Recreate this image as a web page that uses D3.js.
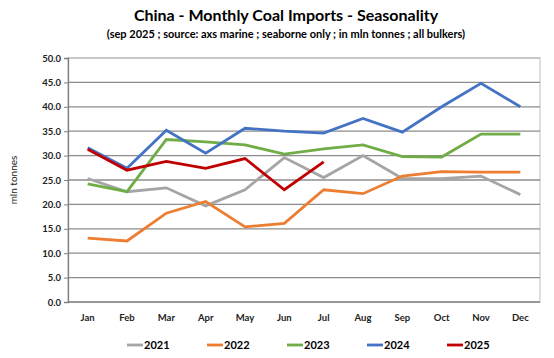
<!DOCTYPE html>
<html>
<head>
<meta charset="utf-8">
<script src="https://cdn.jsdelivr.net/npm/d3@7"></script>
<style>
  body { margin: 0; background: #fff; }
  svg { display: block; font-family: Lato, "Open Sans", sans-serif; }
</style>
</head>
<body>
<div id="chart"></div>
<script>
const months = ["Jan","Feb","Mar","Apr","May","Jun","Jul","Aug","Sep","Oct","Nov","Dec"];
const yTicks = [0, 5, 10, 15, 20, 25, 30, 35, 40, 45, 50];

const v2021 = [25.3, 22.6, 23.4, 19.7, 23.0, 29.6, 25.5, 30.0, 25.3, 25.3, 25.8, 22.0];
const v2022 = [13.1, 12.5, 18.2, 20.6, 15.4, 16.1, 23.0, 22.2, 25.8, 26.7, 26.6, 26.6];
const v2023 = [24.2, 22.6, 33.3, 32.8, 32.2, 30.3, 31.4, 32.2, 29.8, 29.7, 34.4, 34.4];
const v2024 = [31.6, 27.4, 35.2, 30.5, 35.6, 35.0, 34.6, 37.6, 34.8, 40.0, 44.8, 40.0];
const v2025 = [31.3, 27.0, 28.8, 27.4, 29.4, 23.0, 28.7];

const series = [
  {name: "2021", values: v2021, color: "#a5a5a5"},
  {name: "2022", values: v2022, color: "#ed7d31"},
  {name: "2023", values: v2023, color: "#70ad47"},
  {name: "2024", values: v2024, color: "#4472c4"},
  {name: "2025", values: v2025, color: "#c00000"},
];

const width = 554, height = 358;
const M = {top: 58, right: 14, bottom: 56, left: 68};
const innerW = width - M.left - M.right;
const innerH = height - M.top - M.bottom;

const svg = d3.select("#chart").append("svg")
  .attr("width", width).attr("height", height);

const x = d3.scaleBand().domain(months).range([0, innerW]);
const y = d3.scaleLinear().domain([0, 50]).range([innerH, 0]);

// titulo
svg.append("text").attr("x", 286).attr("y", 21)
  .attr("text-anchor", "middle").attr("font-size", 16).attr("font-weight", "bold")
  .attr("fill", "#000").text("China - Monthly Coal Imports - Seasonality");
svg.append("text").attr("x", 286).attr("y", 38)
  .attr("text-anchor", "middle").attr("font-size", 11).attr("font-weight", "bold")
  .attr("fill", "#000").text("(sep 2025 ; source: axs marine ; seaborne only ; in mln tonnes ; all bulkers)");

const g = svg.append("g").attr("transform", `translate(${M.left},${M.top})`);

// borde + grid
g.append("rect").attr("width", innerW).attr("height", innerH)
  .attr("fill", "none").attr("stroke", "#bfbfbf").attr("stroke-width", 1);
g.selectAll("line.grid").data(yTicks.filter(t => t > 0)).join("line")
  .attr("class", "grid")
  .attr("x1", 0).attr("x2", innerW)
  .attr("y1", d => y(d)).attr("y2", d => y(d))
  .attr("stroke", d => d === 50 ? "#bfbfbf" : "#8c8c8c").attr("stroke-width", 1.3);

// eje Y
g.append("g")
  .call(d3.axisLeft(y).tickValues(yTicks).tickFormat(d3.format(".1f")).tickSize(4).tickPadding(3))
  .call(ax => ax.select(".domain").attr("stroke", "#7f7f7f").attr("stroke-width", 1.3))
  .call(ax => ax.selectAll(".tick line").attr("stroke", "#7f7f7f"))
  .call(ax => ax.selectAll("text").attr("font-size", 9.5).attr("font-weight", "bold")
    .attr("fill", "#222").style("font-family", "Lato, sans-serif"));

// base
g.append("line").attr("x1", 0).attr("x2", innerW).attr("y1", innerH).attr("y2", innerH)
  .attr("stroke", "#7f7f7f").attr("stroke-width", 1.3);

// eje X
g.append("g").attr("transform", `translate(0,${innerH})`)
  .call(d3.axisBottom(x).tickSize(0).tickPadding(12))
  .call(ax => ax.select(".domain").remove())
  .call(ax => ax.selectAll("text").attr("font-size", 9.5).attr("font-weight", "bold")
    .attr("fill", "#222").style("font-family", "Lato, sans-serif"));

svg.append("text").attr("transform", "rotate(-90)")
  .attr("x", -180).attr("y", 17)
  .attr("text-anchor", "middle").attr("font-size", 10).attr("fill", "#222")
  .text("mln tonnes");

// lineas
const line = d3.line()
  .x((d, i) => x(months[i]) + x.bandwidth() / 2)
  .y(d => y(d));

g.selectAll("path.series").data(series).join("path")
  .attr("class", "series")
  .attr("fill", "none")
  .attr("stroke", d => d.color)
  .attr("stroke-width", 2.8)
  .attr("stroke-linejoin", "miter")
  .attr("d", d => line(d.values));

// leyenda
const leg = svg.append("g").attr("transform", "translate(127,345)");
series.forEach((s, i) => {
  const lg = leg.append("g").attr("transform", `translate(${i * 80},0)`);
  lg.append("line").attr("x1", 0).attr("x2", 16).attr("y1", 0).attr("y2", 0)
    .attr("stroke", s.color).attr("stroke-width", 2.8);
  lg.append("text").attr("x", 17).attr("y", 4).attr("font-size", 11)
    .attr("font-weight", "bold").attr("fill", "#000").text(s.name);
});
</script>
</body>
</html>
